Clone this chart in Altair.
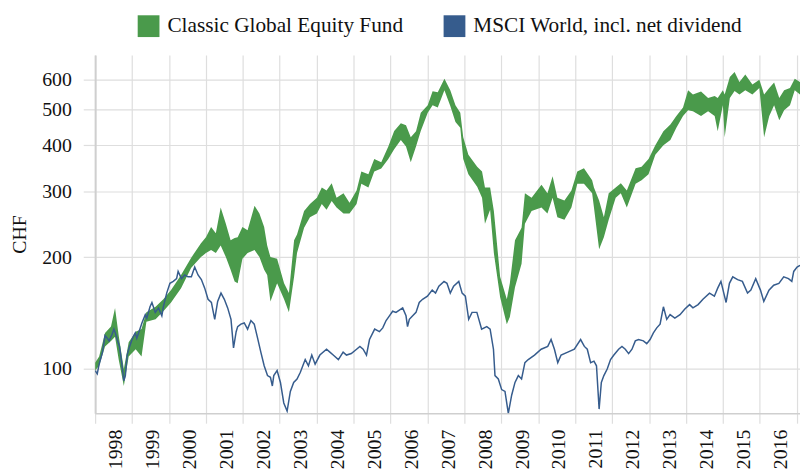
import altair as alt
import pandas as pd

FUND = "Classic Global Equity Fund"
MSCI = "MSCI World, incl. net dividend"
GREEN = "#4a9a4b"
BLUE = "#365c8d"
FONT = "Liberation Serif"
GRID = "#dedede"
TEXT = "#111111"

# MSCI World (CHF), decimal years and values
blue_t = [1998.00,1998.06,1998.11,1998.20,1998.27,1998.33,1998.38,1998.46,1998.51,1998.55,
          1998.60,1998.66,1998.71,1998.78,1998.82,1998.87,1998.91,1999.00,1999.05,1999.09,
          1999.13,1999.18,1999.27,1999.36,1999.40,1999.49,1999.54,1999.63,1999.72,1999.81,
          1999.85,1999.94,2000.03,2000.12,2000.21,2000.25,2000.34,2000.43,2000.52,2000.61,
          2000.70,2000.79,2000.88,2000.97,2001.06,2001.15,2001.24,2001.32,2001.41,2001.50,
          2001.59,2001.68,2001.75,2001.82,2001.86,2001.95,2002.04,2002.13,2002.22,2002.31,
          2002.40,2002.49,2002.58,2002.67,2002.75,2002.80,2002.84,2002.93,2003.02,2003.11,
          2003.20,2003.29,2003.38,2003.47,2003.56,2003.69,2003.78,2003.87,2003.96,2004.09,
          2004.27,2004.36,2004.45,2004.59,2004.72,2004.81,2004.94,2005.08,2005.17,2005.26,
          2005.35,2005.43,2005.57,2005.70,2005.79,2005.88,2005.97,2006.06,2006.15,2006.33,
          2006.42,2006.46,2006.51,2006.60,2006.69,2006.78,2006.87,2007.00,2007.13,2007.22,
          2007.31,2007.45,2007.53,2007.62,2007.71,2007.85,2007.94,2008.03,2008.12,2008.21,
          2008.34,2008.47,2008.61,2008.70,2008.79,2008.83,2008.92,2009.01,2009.10,2009.19,
          2009.28,2009.37,2009.46,2009.55,2009.64,2009.73,2009.90,2010.08,2010.26,2010.35,
          2010.44,2010.53,2010.62,2010.80,2010.98,2011.15,2011.25,2011.33,2011.42,2011.51,
          2011.58,2011.65,2011.71,2011.78,2011.87,2011.96,2012.05,2012.18,2012.27,2012.36,
          2012.45,2012.54,2012.63,2012.72,2012.85,2012.94,2013.03,2013.12,2013.21,2013.30,
          2013.39,2013.48,2013.57,2013.70,2013.84,2013.97,2014.10,2014.19,2014.33,2014.46,
          2014.64,2014.77,2014.86,2014.95,2015.04,2015.09,2015.18,2015.27,2015.40,2015.53,
          2015.67,2015.76,2015.89,2016.02,2016.11,2016.25,2016.38,2016.52,2016.65,2016.78,
          2016.87,2016.92,2017.01,2017.09]
blue_v = [99,97,103,111,123,121,119,124,128,125,
          120,115,106,93,96,109,113,120,123,125,
          121,125,133,140,137,147,151,142,146,139,
          147,160,170,172,175,183,175,179,177,177,
          188,179,174,165,154,151,136,152,160,154,
          146,136,114,126,130,132,133,128,135,132,
          121,111,102,96,95,90,96,99,92,81,
          77,87,92,94,98,106,102,109,103,109,
          113,111,109,106,111,109,110,113,115,113,
          109,120,128,126,129,135,139,143,142,146,
          139,130,136,139,142,151,154,157,163,160,
          167,172,170,160,167,172,160,157,136,142,
          142,128,130,128,113,96,94,88,87,76,
          85,92,96,94,104,106,109,113,115,120,
          113,104,109,111,113,120,115,113,104,105,
          102,78,92,96,100,106,109,113,115,113,
          110,113,119,120,119,117,120,125,129,132,
          147,136,140,137,140,145,149,146,149,154,
          160,157,165,172,158,151,170,177,174,172,
          160,163,175,163,152,163,168,170,177,175,
          172,183,188,190]

# Classic Global Equity Fund band (decimal years, upper and lower values)
green_t = [1998.00,1998.11,1998.27,1998.43,1998.54,1998.64,1998.78,1998.91,1999.10,1999.26,
           1999.39,1999.64,1999.85,2000.06,2000.33,2000.60,2000.87,2001.00,2001.14,2001.27,
           2001.40,2001.54,2001.67,2001.78,2001.86,2001.99,2002.13,2002.32,2002.45,2002.58,
           2002.66,2002.75,2002.93,2003.12,2003.25,2003.39,2003.47,2003.66,2003.82,2004.01,
           2004.14,2004.27,2004.41,2004.54,2004.73,2004.89,2005.08,2005.21,2005.40,2005.56,
           2005.75,2005.94,2006.10,2006.28,2006.42,2006.55,2006.69,2006.82,2007.01,2007.14,
           2007.28,2007.46,2007.62,2007.76,2007.89,2007.97,2008.11,2008.35,2008.48,2008.56,
           2008.70,2008.80,2008.97,2009.15,2009.23,2009.37,2009.55,2009.64,2009.82,2010.09,
           2010.25,2010.39,2010.52,2010.71,2010.90,2011.06,2011.24,2011.46,2011.51,2011.65,
           2011.78,2011.91,2012.10,2012.24,2012.40,2012.64,2012.80,2012.99,2013.17,2013.39,
           2013.58,2013.74,2013.92,2014.06,2014.19,2014.41,2014.60,2014.78,2014.86,2015.00,
           2015.05,2015.19,2015.32,2015.45,2015.61,2015.80,2015.99,2016.12,2016.26,2016.39,
           2016.53,2016.66,2016.82,2016.95,2017.09]
green_hi = [104,108,125,130,146,123,100,118,126,128,
            142,147,154,163,179,199,218,226,241,232,
            272,246,222,225,226,241,236,275,262,241,
            215,200,198,170,160,222,230,266,278,289,
            308,302,316,289,297,280,302,340,334,367,
            360,397,437,458,453,420,436,489,512,559,
            555,604,562,512,489,420,377,350,340,308,
            308,266,177,154,170,222,240,297,289,313,
            297,330,289,284,302,340,347,322,308,284,
            256,297,308,316,302,347,350,367,400,436,
            455,479,505,562,548,558,536,543,536,562,
            548,610,630,592,620,583,600,548,570,590,
            536,562,570,604,592]
green_lo = [99,102,115,119,122,106,90,108,113,108,
            134,136,143,151,165,187,200,205,209,205,
            215,200,185,172,170,198,205,209,200,185,
            179,152,170,154,142,177,205,240,256,262,
            278,268,283,272,262,262,278,315,308,340,
            346,367,390,413,397,360,397,437,489,512,
            505,562,510,462,446,367,334,309,289,246,
            268,205,156,132,138,166,192,246,266,272,
            262,289,256,252,272,315,315,297,272,210,
            226,252,289,297,272,315,322,334,377,400,
            413,446,479,497,494,479,494,479,436,512,
            420,536,560,548,562,548,570,420,479,512,
            467,497,512,562,548]

y_ticks = [100, 200, 300, 400, 500, 600]
year_ticks = list(range(1998, 2018))


def to_date(t):
    y = int(t)
    return (pd.Timestamp(year=y, month=1, day=1)
            + pd.Timedelta(days=(t - y) * 365.25)).strftime("%Y-%m-%d")


gdf = pd.DataFrame({"date": [to_date(t) for t in green_t],
                    "lo": green_lo, "hi": green_hi, "series": FUND})
bdf = pd.DataFrame({"date": [to_date(t) for t in blue_t], "value": blue_v})

x_scale = alt.Scale(domain=[alt.DateTime(year=1998, month=1, date=1, utc=True),
                            alt.DateTime(year=2017, month=2, date=2, utc=True)])
y_scale = alt.Scale(type="log", domain=[76, 700], nice=False)

x_axis = alt.Axis(
    values=[alt.DateTime(year=y, month=1, date=1, utc=True) for y in year_ticks],
    labelExpr="utcyear(datum.value) < 2017 ? utcFormat(datum.value, '%Y') : ''",
    labelAngle=270, labelOffset=21, labelPadding=6, labelFlush=False, labelOverlap=False,
    tickSize=10, grid=True, title=None)

y_axis = alt.Axis(
    values=y_ticks, format="d", labelPadding=12, tickSize=12, grid=True,
    domainWidth=2, title="CHF", titlePadding=12)

area = alt.Chart(gdf).mark_area(clip=True, opacity=1).encode(
    x=alt.X("date:T", scale=x_scale, axis=x_axis),
    y=alt.Y("lo:Q", scale=y_scale, axis=y_axis, title="CHF"),
    y2="hi:Q",
    color=alt.Color("series:N",
                    scale=alt.Scale(domain=[FUND, MSCI], range=[GREEN, BLUE]),
                    legend=alt.Legend(title=None, orient="none", legendX=43, legendY=-40,
                                      direction="horizontal", symbolType="square",
                                      symbolSize=484, symbolStrokeWidth=0,
                                      labelOffset=8, labelLimit=0,
                                      columnPadding=40, padding=0)),
)

line = alt.Chart(bdf).mark_line(clip=True, color=BLUE, strokeWidth=1.5).encode(
    x=alt.X("date:T", scale=x_scale, axis=x_axis),
    y=alt.Y("value:Q", scale=y_scale, axis=y_axis, title="CHF"),
)

chart = alt.layer(area, line).properties(
    width=712, height=362,
    autosize=alt.AutoSizeParams(type="none"),
    padding={"left": 88, "top": 45, "right": 0, "bottom": 60},
    background="white",
).configure(font=FONT).configure_view(stroke=None).configure_axis(
    labelFont=FONT, labelFontSize=20, labelColor=TEXT,
    titleFont=FONT, titleFontSize=20, titleFontWeight="normal", titleColor=TEXT,
    tickColor=GRID, tickWidth=1.2, gridColor=GRID, gridWidth=1.2,
    domainColor="#cfcfcf", domainWidth=1.5,
).configure_legend(labelFont=FONT, labelFontSize=21.5, labelColor=TEXT)

chart.save("out.html", embed_options={"renderer": "svg", "actions": False})
